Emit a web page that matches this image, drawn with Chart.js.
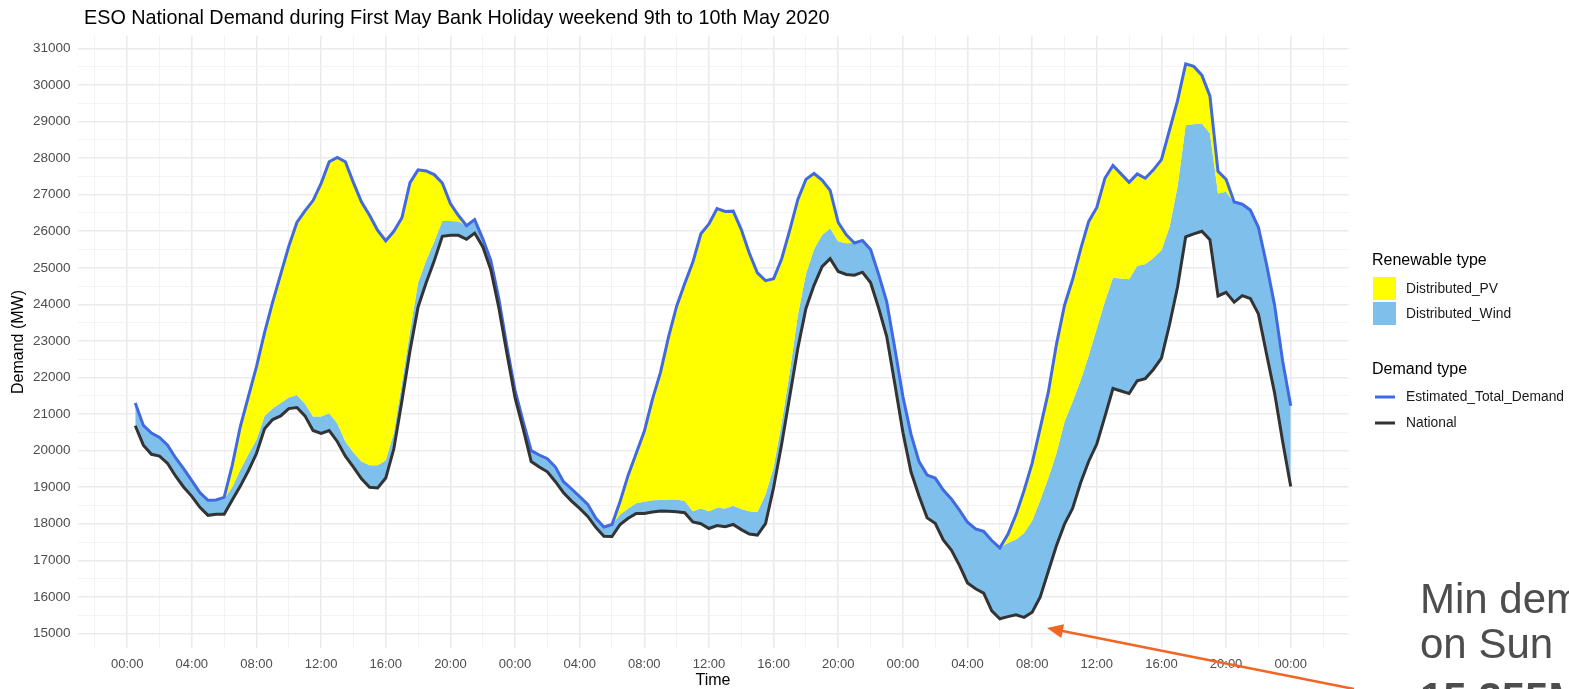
<!DOCTYPE html>
<html>
<head>
<meta charset="utf-8">
<script src="https://cdn.jsdelivr.net/npm/chart.js@4.4.1/dist/chart.umd.min.js"></script>
<style>
  body { margin: 0; background: #fff; }
  #wrap { width: 1569px; height: 689px; overflow: hidden; }
</style>
</head>
<body>
<div id="wrap"><canvas id="myChart" width="1569" height="689"></canvas></div>
<script>
// half-hourly settlement periods, hours since 00:00 on the first day (00:30 .. 00:00 three days later)
var periods = [];
for (var i = 1; i <= 144; i++) periods.push(i * 0.5);

// National demand (MW)
var national = [
  20680, 20150, 19900, 19850, 19650, 19300, 19000, 18750, 18450, 18230, 18260, 18260,
  18650, 19030, 19450, 19920, 20600, 20850, 20950, 21150, 21180, 20950, 20550, 20470,
  20550, 20250, 19850, 19550, 19230, 19000, 18980, 19250, 20050, 21360, 22730, 23930,
  24590, 25190, 25860, 25890, 25890, 25780, 25950, 25580, 24950, 23900, 22650, 21450,
  20600, 19700, 19550, 19420, 19150, 18850, 18620, 18420, 18200, 17900, 17660, 17650,
  17980, 18150, 18280, 18280, 18320, 18350, 18340, 18330, 18300, 18050, 18000, 17870,
  17950, 17920, 17980, 17840, 17720, 17690, 18000, 18990, 20180, 21490, 22800, 23890,
  24520, 25030, 25250, 24900, 24820, 24800, 24880, 24600, 23900, 23120, 21830, 20500,
  19420, 18760, 18160, 18010, 17560, 17280, 16860, 16380, 16220, 16100, 15620, 15400,
  15460, 15510, 15440, 15580, 16000, 16700, 17400, 17990, 18420, 19120, 19710, 20180,
  20930, 21700, 21630, 21560, 21910, 21970, 22220, 22530, 23450, 24480, 25850, 25930,
  26000, 25770, 24230, 24330, 24060, 24240, 24160, 23740, 22650, 21580, 20250, 19020
];

// Distributed wind (MW)
var wind = [
  620, 540, 580, 510, 500, 500, 500, 430, 400, 410, 390, 420,
  350, 450, 450, 380, 350, 300, 350, 300, 340, 330, 380, 460,
  470, 500, 400, 400, 470, 600, 620, 490, 440, 490, 530, 660,
  610, 530, 420, 390, 380, 370, 370, 220, 250, 250, 190, 200,
  200, 300, 330, 360, 400, 300, 330, 320, 330, 250, 250, 330,
  270, 270, 280, 320, 320, 300, 320, 330, 320, 290, 420, 470,
  490, 500, 510, 560, 620, 630, 800, 550, 580, 660, 900, 940,
  990, 870, 830, 820, 850, 880, 870, 900, 920, 950, 970, 980,
  1030, 940, 1170, 1240, 1360, 1400, 1510, 1660, 1640, 1690, 1920, 1940,
  2010, 2060, 2310, 2500, 2640, 2550, 2520, 2790, 2920, 2800, 2890, 3160,
  3150, 3030, 3080, 3130, 3150, 3130, 3050, 2950, 2670, 2750, 3050, 3000,
  2950, 2910, 2800, 2750, 2720, 2500, 2420, 2370, 2450, 2400, 2200, 2210
];

// Distributed PV (MW)
var pv = [
  0, 0, 0, 0, 0, 0, 0, 0, 0, 0, 0, 40,
  600, 1180, 1580, 2000, 2280, 2910, 3530, 4140, 4720, 5280, 5910, 6380,
  6880, 7270, 7650, 7380, 7100, 6840, 6420, 6000, 5510, 4520, 4070, 3090,
  2450, 1830, 1040, 480, 160, 0, 0, 0, 0, 0, 0, 0,
  0, 0, 0, 0, 0, 0, 0, 0, 0, 0, 0, 0,
  360, 910, 1370, 1930, 2760, 3490, 4450, 5290, 5950, 6810, 7510, 7860,
  8180, 8120, 8060, 7650, 7060, 6540, 5850, 5160, 4490, 3880, 3170, 2590,
  2070, 1500, 1040, 520, 230, 0, 0, 0, 0, 0, 0, 0,
  0, 0, 0, 0, 0, 0, 0, 0, 0, 0, 0, 0,
  240, 680, 1160, 1580, 1980, 2350, 2980, 3190, 3340, 3590, 3670, 3310,
  3370, 3070, 2860, 2650, 2510, 2350, 2410, 2480, 2650, 2350, 1680, 1580,
  1320, 1020, 610, 340, 20, 0, 0, 0, 0, 0, 0, 0
];

var yTicks = [15000, 16000, 17000, 18000, 19000, 20000, 21000, 22000, 23000,
              24000, 25000, 26000, 27000, 28000, 29000, 30000, 31000];
var xTickHours = [0, 4, 8, 12, 16, 20, 24, 28, 32, 36, 40, 44, 48, 52, 56, 60, 64, 68, 72];

var titleText = 'ESO National Demand during First May Bank Holiday weekend 9th to 10th May 2020';
var FONT = '"Liberation Sans", Arial, sans-serif';

// build stacked series
var nationalPts = [], windPts = [], totalPts = [];
periods.forEach(function(h, i) {
    var w = national[i] + wind[i];
    nationalPts.push({ x: h, y: national[i] });
    windPts.push({ x: h, y: w });
    totalPts.push({ x: h, y: w + pv[i] });
});

function hhmm(h) {
    var hr = ((h % 24) + 24) % 24;
    return (hr < 10 ? '0' : '') + hr + ':00';
}

// title, axis titles, legends and the slide note drawn straight on the canvas
var decorations = {
    id: 'decorations',
    beforeDraw: function(chart) {
        var ctx = chart.ctx;
        ctx.save();
        ctx.fillStyle = '#ffffff';
        ctx.fillRect(0, 0, chart.width, chart.height);
        ctx.restore();
    },
    afterDraw: function(chart) {
        var ctx = chart.ctx;
        var area = chart.chartArea;
        ctx.save();

        ctx.fillStyle = '#000000';
        ctx.textBaseline = 'middle';
        ctx.textAlign = 'left';
        ctx.font = '19.8px ' + FONT;
        ctx.fillText(titleText, 84, 19);

        // axis titles
        ctx.font = '16px ' + FONT;
        ctx.textAlign = 'center';
        ctx.fillText('Time', (area.left + area.right) / 2, 681);
        ctx.save();
        ctx.translate(19, (area.top + area.bottom) / 2);
        ctx.rotate(-Math.PI / 2);
        ctx.fillText('Demand (MW)', 0, 0);
        ctx.restore();

        // legend: renewable type
        ctx.textAlign = 'left';
        ctx.font = '16px ' + FONT;
        ctx.fillStyle = '#000000';
        ctx.fillText('Renewable type', 1372, 261);
        ctx.fillStyle = '#ffff00';
        ctx.fillRect(1373, 277, 23, 23);
        ctx.fillStyle = '#7fbfeb';
        ctx.fillRect(1373, 302, 23, 23);
        ctx.fillStyle = '#1a1a1a';
        ctx.font = '13.8px ' + FONT;
        ctx.fillText('Distributed_PV', 1406, 289);
        ctx.fillText('Distributed_Wind', 1406, 314);

        // legend: demand type
        ctx.font = '16px ' + FONT;
        ctx.fillStyle = '#000000';
        ctx.fillText('Demand type', 1372, 370);
        ctx.lineWidth = 3;
        ctx.strokeStyle = '#4169e1';
        ctx.beginPath(); ctx.moveTo(1375, 397); ctx.lineTo(1395, 397); ctx.stroke();
        ctx.strokeStyle = '#333333';
        ctx.beginPath(); ctx.moveTo(1375, 423); ctx.lineTo(1395, 423); ctx.stroke();
        ctx.fillStyle = '#1a1a1a';
        ctx.font = '13.8px ' + FONT;
        ctx.fillText('Estimated_Total_Demand', 1406, 397);
        ctx.fillText('National', 1406, 423);

        // slide note with arrow
        ctx.strokeStyle = '#f26522';
        ctx.fillStyle = '#f26522';
        ctx.lineWidth = 2.5;
        var x1 = 1354, y1 = 689, x2 = 1047, y2 = 628;
        var ang = Math.atan2(y2 - y1, x2 - x1);
        ctx.beginPath();
        ctx.moveTo(x1, y1);
        ctx.lineTo(x2 - 12 * Math.cos(ang), y2 - 12 * Math.sin(ang));
        ctx.stroke();
        ctx.beginPath();
        ctx.moveTo(x2, y2);
        ctx.lineTo(x2 - 16 * Math.cos(ang) + 7 * Math.sin(ang), y2 - 16 * Math.sin(ang) - 7 * Math.cos(ang));
        ctx.lineTo(x2 - 16 * Math.cos(ang) - 7 * Math.sin(ang), y2 - 16 * Math.sin(ang) + 7 * Math.cos(ang));
        ctx.closePath();
        ctx.fill();

        ctx.fillStyle = '#4d4d4d';
        ctx.textBaseline = 'alphabetic';
        ctx.font = '42px ' + FONT;
        ctx.fillText('Min demand', 1420, 613);
        ctx.fillText('on Sun', 1420, 658);
        ctx.font = 'bold 42px ' + FONT;
        ctx.fillText('15,355MW', 1420, 712);

        ctx.restore();
    }
};

var ctx = document.getElementById('myChart').getContext('2d');
var myChart = new Chart(ctx, {
    type: 'line',
    data: {
        datasets: [
            {
                label: 'National',
                data: nationalPts,
                borderColor: '#333333',
                borderWidth: 3,
                pointRadius: 0,
                fill: false,
                order: 1
            },
            {
                label: 'Distributed_Wind',
                data: windPts,
                borderWidth: 0,
                borderColor: 'rgba(0,0,0,0)',
                backgroundColor: '#7fbfeb',
                pointRadius: 0,
                fill: 0,
                order: 3
            },
            {
                label: 'Estimated_Total_Demand',
                data: totalPts,
                borderColor: '#4169e1',
                borderWidth: 3,
                backgroundColor: '#ffff00',
                pointRadius: 0,
                fill: 1,
                order: 2
            }
        ]
    },
    options: {
        responsive: false,
        animation: false,
        devicePixelRatio: 1,
        layout: { padding: { left: 0, right: 220.5, top: 35.6, bottom: 0 } },
        plugins: {
            legend: { display: false },
            title: { display: false },
            tooltip: { enabled: false },
            filler: { drawTime: 'beforeDatasetsDraw' }
        },
        scales: {
            x: {
                type: 'linear',
                min: -3.075,
                max: 75.575,
                afterFit: function(scale) { scale.height = 40.7; },
                afterBuildTicks: function(scale) {
                    var t = [];
                    for (var h = -2; h <= 74; h += 2) t.push({ value: h });
                    scale.ticks = t;
                },
                border: { display: false },
                grid: {
                    drawTicks: false,
                    color: function(c) {
                        return c.tick && xTickHours.indexOf(c.tick.value) >= 0 ? '#ebebeb' : '#f3f3f3';
                    },
                    lineWidth: function(c) {
                        return c.tick && xTickHours.indexOf(c.tick.value) >= 0 ? 1.6 : 1;
                    }
                },
                ticks: {
                    autoSkip: false,
                    maxRotation: 0,
                    minRotation: 0,
                    padding: 8,
                    color: '#4d4d4d',
                    font: { family: FONT, size: 13 },
                    callback: function(v) {
                        return xTickHours.indexOf(v) >= 0 ? hhmm(v) : '';
                    }
                }
            },
            y: {
                min: 14593,
                max: 31352,
                afterFit: function(scale) { scale.width = 77.5; },
                afterBuildTicks: function(scale) {
                    var t = [];
                    for (var v = 15000; v <= 31000; v += 500) t.push({ value: v });
                    scale.ticks = t;
                },
                border: { display: false },
                grid: {
                    drawTicks: false,
                    color: function(c) {
                        return c.tick && yTicks.indexOf(c.tick.value) >= 0 ? '#ebebeb' : '#f3f3f3';
                    },
                    lineWidth: function(c) {
                        return c.tick && yTicks.indexOf(c.tick.value) >= 0 ? 1.6 : 1;
                    }
                },
                ticks: {
                    autoSkip: false,
                    padding: 7,
                    color: '#4d4d4d',
                    font: { family: FONT, size: 13.5 },
                    callback: function(v) {
                        return yTicks.indexOf(v) >= 0 ? String(v) : '';
                    }
                }
            }
        }
    },
    plugins: [decorations]
});
</script>
</body>
</html>
